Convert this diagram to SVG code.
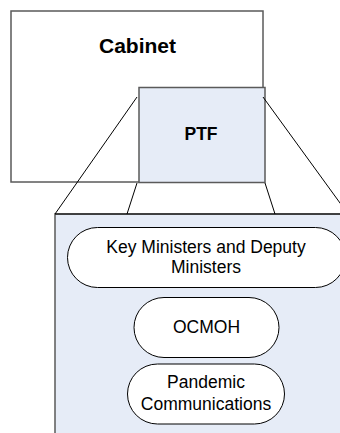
<svg xmlns="http://www.w3.org/2000/svg" width="340" height="433" viewBox="0 0 340 433">
<style>
.box{stroke:#5a5a5a;stroke-width:1.5}
.ln{stroke:#000;stroke-width:1;fill:none}
.pill{fill:#fff;stroke:#000;stroke-width:1}
.t{font-family:"Liberation Sans",Arial,sans-serif;fill:#000;text-anchor:middle}
.b{font-weight:bold}
</style>
<rect width="340" height="433" fill="#fff"/>
<g id="cabinet">
<rect class="box" x="11" y="11" width="252" height="171" fill="#fff"/>
<text class="t b" x="137.5" y="53" font-size="21">Cabinet</text>
</g>
<g id="ptf">
<rect class="box" x="139" y="87.5" width="126" height="95" fill="#e6ecf7"/>
<text class="t b" x="201" y="140" font-size="17.5">PTF</text>
</g>
<g id="detail">
<rect x="55" y="214" width="300" height="230" fill="#e6ecf7" stroke="#5a5a5a" stroke-width="1.5"/>
<line x1="55" y1="214" x2="340" y2="214" stroke="#000" stroke-width="1.2"/>
</g>
<g id="connectors">
<line class="ln" x1="137" y1="97" x2="55" y2="214"/>
<line class="ln" x1="263" y1="97" x2="348" y2="214"/>
<line class="ln" x1="137" y1="183" x2="127" y2="214"/>
<line class="ln" x1="265" y1="183" x2="275" y2="214"/>
</g>
<g id="key-ministers">
<rect class="pill" x="67.5" y="227.5" width="278" height="60" rx="30" ry="30"/>
<text class="t" x="206" y="253" font-size="17.5">Key Ministers and Deputy</text>
<text class="t" x="206" y="273" font-size="17.5">Ministers</text>
</g>
<g id="ocmoh">
<rect class="pill" x="134" y="297.5" width="145" height="60" rx="30" ry="30"/>
<text class="t" x="206.5" y="333" font-size="17.5">OCMOH</text>
</g>
<g id="pandemic-communications">
<rect class="pill" x="127.5" y="364" width="157" height="60" rx="30" ry="30"/>
<text class="t" x="206" y="388" font-size="17.5">Pandemic</text>
<text class="t" x="206" y="410" font-size="17.5">Communications</text>
</g>
</svg>
